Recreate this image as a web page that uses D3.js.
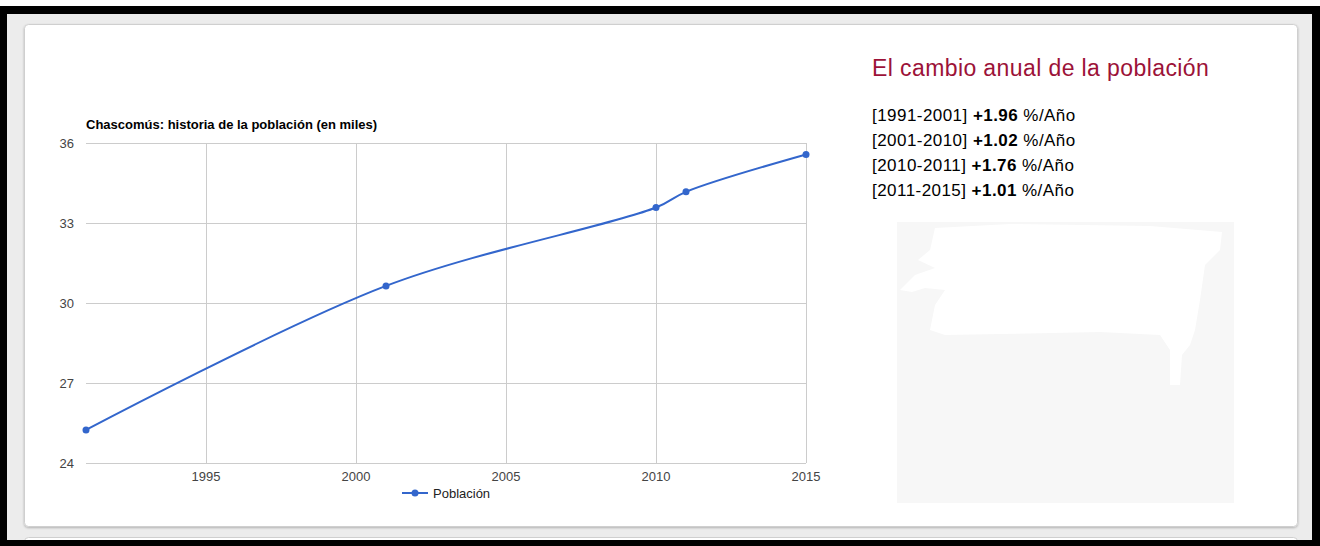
<!DOCTYPE html>
<html>
<head>
<meta charset="utf-8">
<script src="https://cdn.jsdelivr.net/npm/d3@7"></script>
<style>
  html, body { margin: 0; padding: 0; background: #fff; }
  svg { display: block; }
</style>
</head>
<body>
<svg id="chart" width="1320" height="546"></svg>
<script>
// ---- data ----
const years = [1991, 2001, 2010, 2011, 2015];
const population = [25.24, 30.64, 33.58, 34.17, 35.57];
const yTicks = [24, 27, 30, 33, 36];
const xTicks = [1995, 2000, 2005, 2010, 2015];
const chartTitle = "Chascomús: historia de la población (en miles)";
const seriesName = "Población";
const panelTitle = "El cambio anual de la población";
const periods = ["[1991-2001]", "[2001-2010]", "[2010-2011]", "[2011-2015]"];
const rates = ["+1.96", "+1.02", "+1.76", "+1.01"];
const rateUnit = "%/Año";

const svg = d3.select("#chart");
const FONT = "'Liberation Sans', Arial, sans-serif";

// ---- page frame ----
svg.append("rect").attr("x", 0).attr("y", 0).attr("width", 1320).attr("height", 546).attr("fill", "#000");
svg.append("rect").attr("x", 0).attr("y", 0).attr("width", 1320).attr("height", 6).attr("fill", "#fff");
svg.append("rect").attr("x", 7).attr("y", 14).attr("width", 1305).attr("height", 526).attr("fill", "#ececec");

const defs = svg.append("defs");
const f = defs.append("filter").attr("id", "sh").attr("x", "-5%").attr("y", "-5%").attr("width", "110%").attr("height", "110%");
f.append("feDropShadow").attr("dx", 0).attr("dy", 1).attr("stdDeviation", 1.2).attr("flood-color", "#000").attr("flood-opacity", 0.25);

// second card peeking at bottom
svg.append("rect").attr("x", 24.5).attr("y", 537.5).attr("width", 1273).attr("height", 30)
  .attr("rx", 4).attr("fill", "#fff").attr("stroke", "#cfcfcf");
// main card
svg.append("rect").attr("x", 24.5).attr("y", 24.5).attr("width", 1273).attr("height", 502)
  .attr("rx", 4).attr("fill", "#fff").attr("stroke", "#cfcfcf").attr("filter", "url(#sh)");
// bottom black strip
svg.append("rect").attr("x", 0).attr("y", 540).attr("width", 1320).attr("height", 6).attr("fill", "#000");

// ---- chart ----
const x = d3.scaleLinear().domain([1991, 2015]).range([86, 806]);
const y = d3.scaleLinear().domain([24, 36]).range([463, 143]);

const g = svg.append("g");

// gridlines
g.selectAll("line.hgrid").data(yTicks).join("line")
  .attr("x1", x(1991)).attr("x2", x(2015))
  .attr("y1", d => Math.round(y(d)) + 0.5).attr("y2", d => Math.round(y(d)) + 0.5)
  .attr("stroke", "#cccccc").attr("stroke-width", 1);
g.selectAll("line.vgrid").data(xTicks).join("line")
  .attr("x1", d => Math.round(x(d)) + 0.5).attr("x2", d => Math.round(x(d)) + 0.5)
  .attr("y1", y(36)).attr("y2", y(24))
  .attr("stroke", "#cccccc").attr("stroke-width", 1);

// axis labels
g.selectAll("text.ylab").data(yTicks).join("text")
  .attr("x", 74).attr("y", d => y(d) + 4.5)
  .attr("text-anchor", "end").attr("font-family", FONT).attr("font-size", 13)
  .attr("fill", "#444").text(d => d);
g.selectAll("text.xlab").data(xTicks).join("text")
  .attr("x", d => x(d)).attr("y", 481)
  .attr("text-anchor", "middle").attr("font-family", FONT).attr("font-size", 13)
  .attr("fill", "#444").text(d => d);

// title
g.append("text").attr("x", 86).attr("y", 129)
  .attr("font-family", FONT).attr("font-size", 13).attr("font-weight", "bold")
  .attr("fill", "#000").text(chartTitle);

// line
const pts = years.map((yr, i) => [yr, population[i]]);
const line = d3.line().x(d => x(d[0])).y(d => y(d[1])).curve(d3.curveCatmullRom.alpha(0.5));
g.append("path").datum(pts).attr("d", line)
  .attr("fill", "none").attr("stroke", "#3366cc").attr("stroke-width", 2);
g.selectAll("circle.pt").data(pts).join("circle")
  .attr("cx", d => x(d[0])).attr("cy", d => y(d[1])).attr("r", 3.5)
  .attr("fill", "#3366cc");

// legend
const lg = g.append("g");
lg.append("line").attr("x1", 402).attr("x2", 428).attr("y1", 493).attr("y2", 493)
  .attr("stroke", "#3366cc").attr("stroke-width", 2);
lg.append("circle").attr("cx", 415).attr("cy", 493).attr("r", 3.5).attr("fill", "#3366cc");
lg.append("text").attr("x", 433).attr("y", 497.5)
  .attr("font-family", FONT).attr("font-size", 13).attr("fill", "#222").text(seriesName);

// ---- right panel ----
svg.append("text").attr("x", 872).attr("y", 76)
  .attr("font-family", FONT).attr("font-size", 23).attr("letter-spacing", 0.4)
  .attr("fill", "#9c1238").text(panelTitle);

periods.forEach((p, i) => {
  const t = svg.append("text").attr("x", 872).attr("y", 121 + i * 25)
    .attr("font-family", FONT).attr("font-size", 17).attr("letter-spacing", 0.45)
    .attr("fill", "#000");
  t.append("tspan").text(p + " ");
  t.append("tspan").attr("font-weight", "bold").text(rates[i]);
  t.append("tspan").text(" " + rateUnit);
});

// redacted image placeholder
svg.append("rect").attr("x", 897).attr("y", 222).attr("width", 337).attr("height", 281).attr("fill", "#f7f7f7");
svg.append("path")
  .attr("d", "M935,228 L1010,224 L1150,226 L1222,232 L1220,250 L1205,265 L1200,300 L1195,330 L1190,345 L1182,355 L1180,385 L1170,385 L1170,350 L1160,335 L1100,332 L1000,334 L945,335 L930,330 L935,305 L945,290 L925,288 L912,292 L900,290 L915,275 L935,268 L918,260 L930,250 Z")
  .attr("fill", "#ffffff");
</script>
</body>
</html>
